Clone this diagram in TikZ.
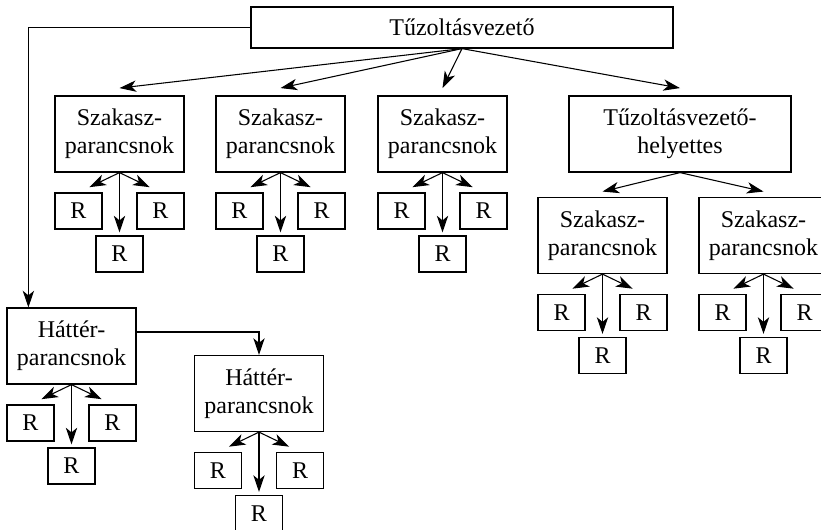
\documentclass[tikz,border=0pt]{standalone}
\usepackage{fontspec}
\setmainfont{Liberation Serif}
\usetikzlibrary{arrows.meta}

\tikzset{
  box/.style={draw, line width=0.9pt, align=center, inner sep=0pt,
    font=\fontsize{18pt}{21pt}\selectfont},
  unit/.style={box, minimum width=96.75pt, minimum height=57pt},
  rbox/.style={box, minimum width=35.25pt, minimum height=27pt},
  arr/.style={line width=0.8pt, -{Stealth[length=12.5pt,width=8.5pt,inset=3.5pt]}}
}

\begin{document}
\begin{tikzpicture}[x=0.75pt,y=-0.75pt]
\useasboundingbox (0,0) rectangle (821,529);
% the head at the top
\node[box, minimum width=316.5pt, minimum height=30.75pt] (tv) at (462,27.5) {Tűzoltásvezető};
% the first row
\node[unit] (sz1) at (119.5,134) {Szakasz-\\parancsnok};
\node[unit] (sz2) at (280.5,134) {Szakasz-\\parancsnok};
\node[unit] (sz3) at (442.5,134) {Szakasz-\\parancsnok};
\node[unit, minimum width=166.5pt] (tvh) at (680,134) {Tűzoltásvezető-\\helyettes};
% under the deputy
\node[unit] (sz4) at (602.5,235.5) {Szakasz-\\parancsnok};
\node[unit] (sz5) at (763.5,235.5) {Szakasz-\\parancsnok};
% the two background commanders
\node[unit] (ht1) at (71.5,346) {Háttér-\\parancsnok};
\node[unit] (ht2) at (259,393.5) {Háttér-\\parancsnok};
% the arrows from the top
\foreach \b in {sz1,sz2,sz3,tvh}
  \draw[arr] (tv.south) -- ([yshift=5.5pt]\b.north);
\foreach \b in {sz4,sz5}
  \draw[arr] (tvh.south) -- ([yshift=4pt]\b.north);
\draw[arr] (tv.west) -| ([xshift=16.5pt]ht1.north west);
\draw[arr] ([yshift=10.5pt]ht1.east) -| (ht2.north);
% three R boxes under each commander
\foreach \p/\x/\y in {sz1/119.5/134, sz2/280.5/134, sz3/442.5/134,
    sz4/602.5/235.5, sz5/763.5/235.5, ht1/71.5/346, ht2/259/393.5} {
  \node[rbox] (\p-l) at (\x-41,\y+77) {R};
  \node[rbox] (\p-r) at (\x+41,\y+77) {R};
  \node[rbox] (\p-b) at (\x,\y+120) {R};
  \draw[arr, shorten >=9pt] (\p.south) -- (\p-l.north);
  \draw[arr, shorten >=9pt] (\p.south) -- (\p-r.north);
  \draw[arr, shorten >=2.25pt] (\p.south) -- (\p-b.north);
}
\end{tikzpicture}
\end{document}
